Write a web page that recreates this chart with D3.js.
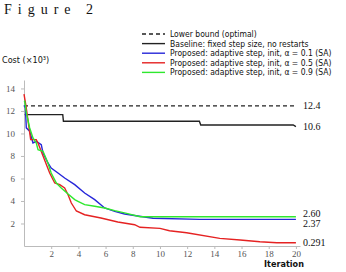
<!DOCTYPE html>
<html>
<head>
<meta charset="utf-8">
<script src="https://cdn.jsdelivr.net/npm/d3@7"></script>
<style>
  body { margin: 0; background: #fff; }
  svg { display: block; }
  .tick text { font-family: "Liberation Serif", serif; font-size: 9px; fill: #555; }
  .tick line, .domain { stroke: #bbb; }
</style>
</head>
<body>
<div id="chart"></div>
<script>
/** Series names, in legend order */
var seriesNames = [
    "Lower bound (optimal)",
    "Baseline: fixed step size, no restarts",
    "Proposed: adaptive step, init, α = 0.1 (SA)",
    "Proposed: adaptive step, init, α = 0.5 (SA)",
    "Proposed: adaptive step, init, α = 0.9 (SA)"
];

/** End-of-line labels */
var endLabels = ["12.4", "10.6", "2.37", "0.291", "2.60"];

/** Tick values */
var xTicks = [2, 4, 6, 8, 10, 12, 14, 16, 18, 20],
    yTicks = [2, 4, 6, 8, 10, 12, 14];

/** Series values as [x, y] pairs */
var boundData = [[0, 12.45], [20, 12.45]];

var baselineData = [[0.05, 11.67], [2.85, 11.67], [2.9, 11.08], [12.9, 11.08],
    [13.0, 10.75], [19.8, 10.75], [20, 10.6]];

var blueData = [[0, 12.5], [0.1, 12.27], [0.17, 10.5], [0.42, 10.2], [0.66, 9.16],
    [0.9, 9.3], [1.27, 9.0], [1.4, 8.27], [1.76, 7.38], [2.0, 6.93], [2.5, 6.49],
    [2.99, 6.04], [3.73, 5.45], [4.46, 4.71], [5.2, 4.12], [5.93, 3.38], [6.67, 3.08],
    [7.4, 2.84], [8.24, 2.69], [9.49, 2.46], [12.94, 2.37], [20, 2.37]];

var redData = [[0, 13.5], [0.15, 12.4], [0.29, 11.2], [0.49, 9.45], [0.9, 9.45],
    [1.03, 9.15], [1.4, 8.0], [1.89, 6.49], [2.26, 5.6], [2.63, 5.45], [2.99, 5.16],
    [3.24, 4.56], [3.48, 3.82], [3.85, 3.11], [4.46, 2.78], [5.66, 2.49], [6.9, 2.13],
    [8.14, 1.89], [8.53, 1.66], [10.0, 1.57], [10.7, 1.36], [11.96, 1.18], [14.4, 0.68],
    [15.9, 0.53], [17.35, 0.38], [18.6, 0.29], [20, 0.29]];

var greenData = [[0, 12.9], [0.05, 12.86], [0.17, 11.82], [0.42, 10.49], [0.66, 9.6],
    [0.9, 9.16], [1.03, 8.56], [1.4, 8.42], [1.76, 7.38], [2.0, 6.49], [2.38, 5.6],
    [2.74, 5.16], [3.24, 4.62], [3.73, 4.12], [3.97, 3.97], [4.46, 3.67], [5.2, 3.53],
    [5.93, 3.38], [6.67, 3.14], [7.55, 2.9], [8.53, 2.6], [20, 2.6]];

var seriesColors = ["#222", "#222", "#2626d9", "#e52222", "#2ee82e"];
var seriesDash = ["4,3", null, null, null, null];

var series = [boundData, baselineData, blueData, redData, greenData];

var width = 346, height = 272;

var svg = d3.select("#chart").append("svg")
    .attr("width", width)
    .attr("height", height);

var xScale = d3.scaleLinear().domain([0, 20.3]).range([24, 300]);
var yScale = d3.scaleLinear().domain([0, 14.75]).range([246, 80]);

// axes
var xAxis = d3.axisBottom(xScale).tickValues(xTicks).tickSize(3).tickPadding(2).tickSizeOuter(0);
var yAxis = d3.axisLeft(yScale).tickValues(yTicks).tickSize(3).tickPadding(6).tickSizeOuter(0);

svg.append("g").attr("transform", "translate(0,246)").call(xAxis);
svg.append("g").attr("transform", "translate(24,0)").call(yAxis);

// lines
var line = d3.line()
    .x(function (d) { return xScale(d[0]); })
    .y(function (d) { return yScale(d[1]); });

series.forEach(function (d, i) {
    svg.append("path")
        .datum(d)
        .attr("d", line)
        .attr("fill", "none")
        .attr("stroke", seriesColors[i])
        .attr("stroke-width", 1.4)
        .attr("stroke-dasharray", seriesDash[i]);
});

// end labels, nudged so green and blue don't overlap
var labelY = [0, 0, 4, 0, -3];
series.forEach(function (d, i) {
    var last = d[d.length - 1];
    svg.append("text")
        .attr("x", 303)
        .attr("y", yScale(last[1]) + labelY[i])
        .attr("dy", "0.35em")
        .attr("font-family", "Liberation Serif, serif")
        .attr("font-size", 10)
        .attr("fill", "#111")
        .text(endLabels[i]);
});

// legend
var legend = svg.append("g").attr("transform", "translate(142,34)");
seriesNames.forEach(function (name, i) {
    var g = legend.append("g").attr("transform", "translate(0," + (i * 9.6) + ")");
    g.append("line")
        .attr("x1", 0).attr("x2", 23)
        .attr("stroke", seriesColors[i])
        .attr("stroke-width", 1.4)
        .attr("stroke-dasharray", seriesDash[i]);
    g.append("text")
        .attr("x", 28)
        .attr("dy", "0.35em")
        .attr("font-family", "DejaVu Sans Condensed, Liberation Sans Narrow, sans-serif")
        .attr("font-stretch", "condensed")
        .attr("font-size", 8.5)
        .attr("fill", "#111")
        .text(name);
});

// title and axis titles
svg.append("text")
    .attr("x", 4).attr("y", 14)
    .attr("font-family", "Liberation Serif, serif")
    .attr("font-size", 14)
    .attr("letter-spacing", 6)
    .attr("fill", "#111")
    .text("Figure 2");

svg.append("text")
    .attr("x", 2).attr("y", 63)
    .attr("font-family", "Liberation Sans Narrow, DejaVu Sans Condensed, sans-serif")
    .attr("font-size", 9)
    .attr("fill", "#111")
    .text("Cost (×10³)");

svg.append("text")
    .attr("x", 284).attr("y", 267)
    .attr("text-anchor", "middle")
    .attr("font-family", "Liberation Sans Narrow, DejaVu Sans Condensed, sans-serif")
    .attr("font-size", 9)
    .attr("font-weight", "bold")
    .attr("fill", "#111")
    .text("Iteration");
</script>
</body>
</html>
